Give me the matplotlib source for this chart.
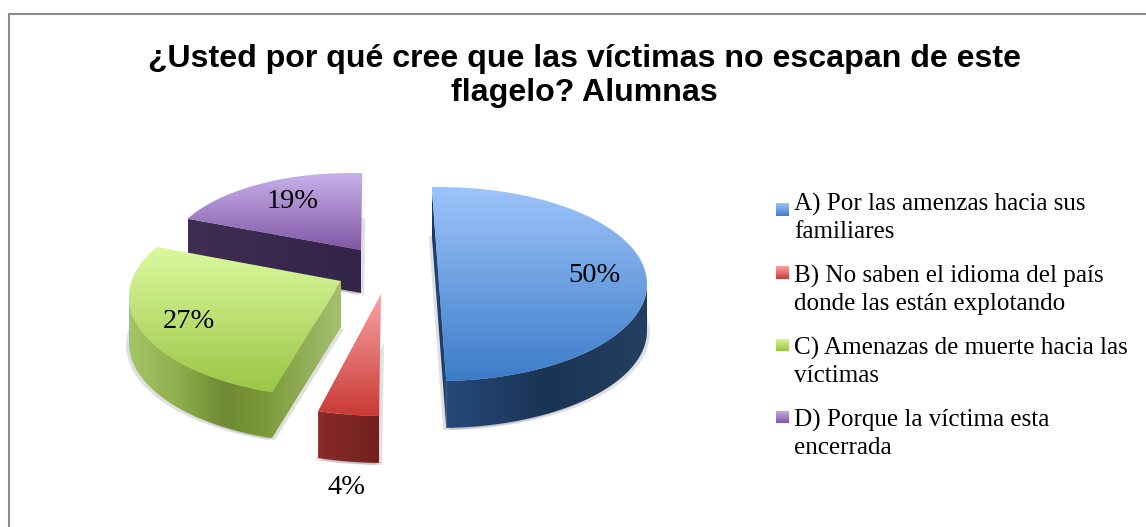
import numpy as np
import matplotlib
matplotlib.use("Agg")
import matplotlib.pyplot as plt
from matplotlib.colors import LinearSegmentedColormap as LSC
from matplotlib.patches import Polygon

# ---- data ----
title_lines = ["¿Usted por qué cree que las víctimas no escapan de este", "flagelo? Alumnas"]
categories = [
    ["A) Por las amenzas hacia sus", "familiares"],
    ["B) No saben el idioma del país", "donde las están explotando"],
    ["C) Amenazas de muerte hacia las", "víctimas"],
    ["D) Porque la víctima esta", "encerrada"],
]
values = [50, 4, 27, 19]

# ---- per-slice style (pixel layout of the exploded 3D pie) ----
centers = [(439, 284), (385, 301), (336, 297), (350, 258)]
radii = [(208, 97), (230, 115), (207, 100), (183, 85)]
apexes = [(439, 284), (381, 294), (341, 281), (361, 250)]
starts = [-2, 181.5, 198, 297.5]
sweep_scale = [1.0, 1.07, 1.05, 0.97]
depths = [47, 47, 46, 43]
top_cols = [("#9dc4fa", "#3d7cc9"), ("#faa3a3", "#c93a36"), ("#dcf99e", "#9bc645"), ("#c8b0ea", "#8158a6")]
wall_cols = [("#26487a", "#1b3454", "#243f60"), ("#8c2b2a", "#7d2523", "#70201f"),
             ("#a4c568", "#8fae4c", "#6f8a33", "#7e9c3a"), ("#402e52", "#37264a", "#33244a")]
face_cols = [("#1a3a60", "#26497a"), ("#8c2b2a", "#8c2b2a"), ("#7f9e3e", "#a6bf72"), ("#402e52", "#33244a")]
faces = [(True, True), (False, False), (True, False), (True, False)]
label_pos = [(594, 275), (346, 487), (189, 321), (293, 202)]
legend_y = [(204, 232), (276, 304), (348, 376), (420, 448)]
marker_y = [209.5, 272.5, 345, 417]
draw_order = [3, 2, 1, 0]

fig = plt.figure(figsize=(11.46, 5.27), dpi=100, facecolor="white")
ax = fig.add_axes([0, 0, 1, 1])
ax.set_xlim(0, 1146)
ax.set_ylim(527, 0)
ax.axis("off")

SERIF = ["Liberation Serif"]
SANS = ["Liberation Sans"]


def grad_poly(pts, cols, horizontal, z):
    pts = np.asarray(pts)
    poly = Polygon(pts, closed=True, fc="none", ec="none", zorder=z)
    ax.add_patch(poly)
    x0, x1 = pts[:, 0].min(), pts[:, 0].max()
    y0, y1 = pts[:, 1].min(), pts[:, 1].max()
    ramp = np.linspace(0, 1, 128)
    arr = ramp[None, :] if horizontal else ramp[:, None]
    im = ax.imshow(arr, extent=(x0, x1, y1, y0), origin="upper", aspect="auto",
                   cmap=LSC.from_list("g", list(cols)), zorder=z, interpolation="bilinear")
    im.set_clip_path(poly)


def arc(c, r, t0, t1, n=120):
    t = np.radians(np.linspace(t0, t1, n))
    return np.c_[c[0] + r[0] * np.sin(t), c[1] - r[1] * np.cos(t)]


z = 2
for i in draw_order:
    c, r, a, d = centers[i], radii[i], np.array(apexes[i], float), depths[i]
    t0 = starts[i]
    t1 = t0 + values[i] * 3.6 * sweep_scale[i]
    outer = arc(c, r, t0, t1)
    top = np.vstack([a, outer])
    down = np.array([0, d])

    # soft shadow around the lower part of the slice
    for sx in (-3, 3):
        ax.add_patch(Polygon(top + [sx, d + 2], closed=True, fc="#000000", alpha=0.12, ec="none", zorder=z))
    z += 1

    w0, w1 = max(t0, 90), min(t1, 270)
    if w1 > w0:
        wa = arc(c, r, w0, w1)
        grad_poly(np.vstack([wa, (wa + down)[::-1]]), wall_cols[i], True, z)
        z += 1
    if faces[i][0]:
        s = outer[0]
        grad_poly([s, a, a + down, s + down], face_cols[i], True, z)
        z += 1
    if faces[i][1]:
        e = outer[-1]
        grad_poly([a, e, e + down, a + down], face_cols[i], True, z)
        z += 1
    grad_poly(top, top_cols[i], False, z)
    z += 1

for v, (x, y) in zip(values, label_pos):
    ax.text(x, y, f"{v}%", ha="center", va="center", family=SERIF, fontsize=20.5, color="black", zorder=100)

ax.plot([8.7, 1146], [13.7, 13.7], color="#8c8c8c", lw=1.5, solid_capstyle="butt", zorder=1)
ax.plot([8.7, 8.7], [13, 527], color="#8c8c8c", lw=1.5, solid_capstyle="butt", zorder=1)

for line, y in zip(title_lines, (59, 93)):
    ax.text(584, y, line, ha="center", va="center", family=SANS, weight="bold", fontsize=23.1, color="black", zorder=100)

for i, (lines, ys, ym) in enumerate(zip(categories, legend_y, marker_y)):
    grad_poly([(776, ym - 6.5), (789, ym - 6.5), (789, ym + 6.5), (776, ym + 6.5)], top_cols[i], False, 100)
    for line, y in zip(lines, ys):
        ax.text(794, y, line, ha="left", va="center", family=SERIF, fontsize=18.1, color="black", zorder=100)

ax.set_xlim(0, 1146)
ax.set_ylim(527, 0)
fig.savefig("out.png", dpi=100)
